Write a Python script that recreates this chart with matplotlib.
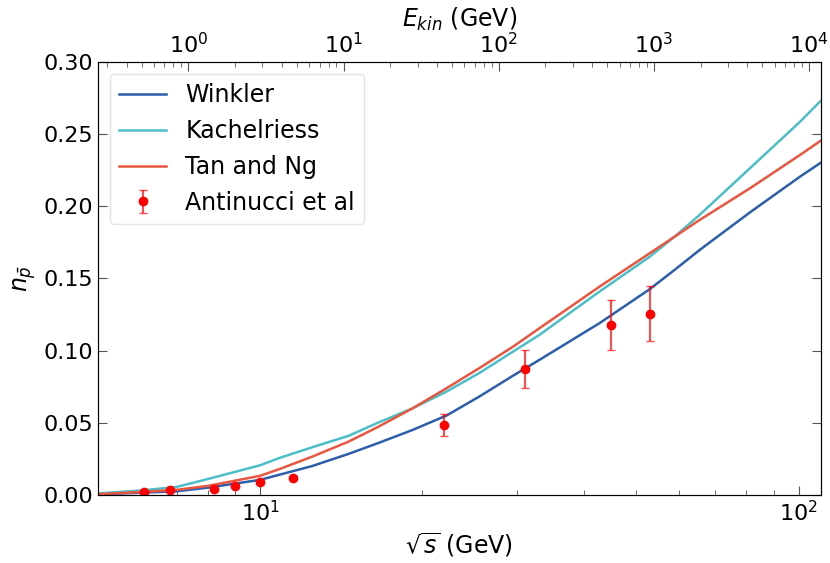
import matplotlib
matplotlib.use('Agg')
import matplotlib.pyplot as plt
import numpy as np

# sqrt(s) grid (GeV) for the model curves
sqrt_s = [5.0, 6.0, 7.0, 8.0, 10.0, 10.85, 12.5, 14.6, 16.6, 19.2, 22.2,
          25.5, 29.5, 33.0, 42.7, 52.9, 58.9, 65.5, 81.2, 100.6, 110.0]

winkler = [0.0003, 0.0015, 0.0025, 0.005, 0.0104, 0.0139, 0.020, 0.0284,
           0.036, 0.045, 0.055, 0.068, 0.0826, 0.0935, 0.119, 0.1425,
           0.156, 0.1697, 0.1957, 0.2205, 0.2302]

kachelriess = [0.001, 0.003, 0.0055, 0.011, 0.0205, 0.0255, 0.033, 0.0409,
               0.0502, 0.060, 0.0716, 0.0843, 0.0993, 0.1108, 0.1409, 0.165,
               0.179, 0.194, 0.2263, 0.2585, 0.2731]

tan_ng = [0.0005, 0.002, 0.0035, 0.0062, 0.0132, 0.0178, 0.0265, 0.0369,
          0.0473, 0.060, 0.0739, 0.0877, 0.1027, 0.1154, 0.1443, 0.1674,
          0.179, 0.1905, 0.2124, 0.2355, 0.2455]

# Antinucci et al measurements
data_s = [6.1, 6.8, 8.2, 9.0, 10.0, 11.5, 22.0, 31.0, 44.8, 53.0]
data_n = [0.0019, 0.0033, 0.0040, 0.0064, 0.0088, 0.0120, 0.0485, 0.0873, 0.1178, 0.1254]
data_err = [0.0, 0.0, 0.0, 0.0, 0.0, 0.0, 0.0078, 0.013, 0.0175, 0.019]

plt.rcParams['font.family'] = 'DejaVu Sans'
plt.rcParams['mathtext.fontset'] = 'dejavusans'

fig = plt.figure(figsize=(8.3, 5.63), dpi=100)
ax = fig.add_axes([0.118, 0.121, 0.871, 0.769])

ax.plot(sqrt_s, winkler, color='#2b5fab', lw=1.8, label='Winkler')
ax.plot(sqrt_s, kachelriess, color='#4bbec8', lw=1.8, label='Kachelriess')
ax.plot(sqrt_s, tan_ng, color='#e8563f', lw=1.8, label='Tan and Ng')
ax.errorbar(data_s, data_n, yerr=data_err, fmt='o', color='red', ms=6,
            elinewidth=1.5, capsize=3, ecolor=(1, 0, 0, 0.7),
            label='Antinucci et al')

ax.set_xscale('log')
ax.set_xlim(5, 110)
ax.set_ylim(0, 0.30)
ax.set_yticks(np.arange(0, 0.31, 0.05))
ax.set_xlabel(r'$\sqrt{s}$ (GeV)', fontsize=17)
ax.set_ylabel(r'$n_{\bar{p}}$', fontsize=17)
ax.tick_params(which='both', direction='in', right=True, labelsize=16,
               color='#555555')
ax.tick_params(which='major', length=6.5)
ax.tick_params(which='minor', length=3.5)

for s in ax.spines.values():
    s.set_color('#333333')

leg = ax.legend(loc='upper left', fontsize=17, frameon=True, borderpad=0.4,
                handlelength=2.0)
leg.get_frame().set_edgecolor('#dddddd')

top = ax.twiny()
top.set_xscale('log')
top.set_xlim(0.2615, 11900)
top.set_xlabel(r'$E_{kin}$ (GeV)', fontsize=17)
top.tick_params(which='both', direction='in', labelsize=16, color='#555555')
top.tick_params(which='major', length=6.5)
top.tick_params(which='minor', length=3.5)

fig.savefig('out.png', dpi=100)
